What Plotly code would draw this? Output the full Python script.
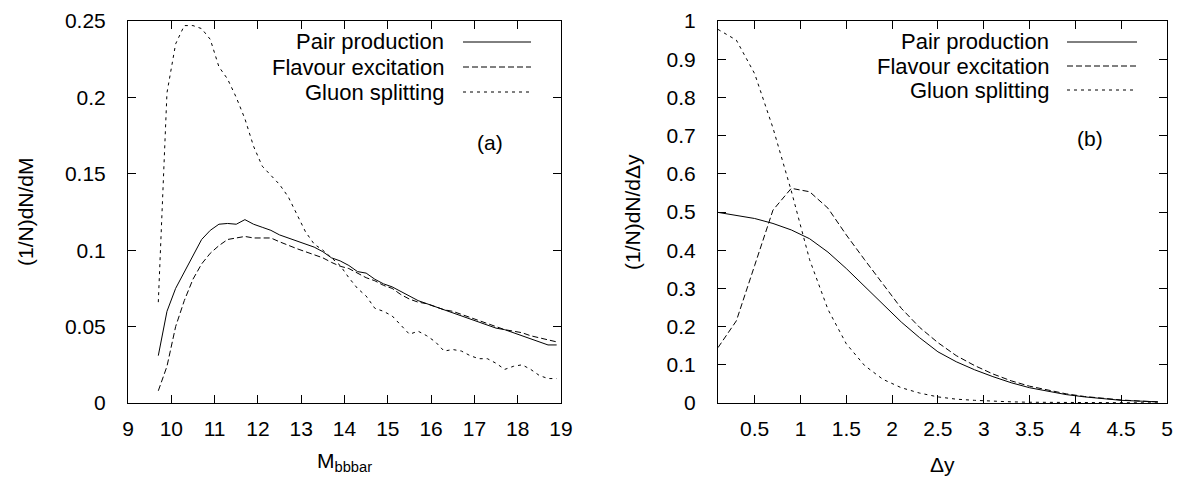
import plotly.graph_objects as go

# ---- data: panel (a) ----
m_vals = [9.7, 9.9, 10.1, 10.3, 10.5, 10.7, 10.9, 11.1, 11.3, 11.5, 11.7, 11.9, 12.1, 12.3, 12.5, 12.7,
          12.9, 13.1, 13.3, 13.5, 13.7, 13.9, 14.1, 14.3, 14.5, 14.7, 14.9, 15.1, 15.3, 15.5, 15.7, 15.9,
          16.1, 16.3, 16.5, 16.7, 16.9, 17.1, 17.3, 17.5, 17.7, 17.9, 18.1, 18.3, 18.5, 18.7, 18.9]
pair_m = [0.031, 0.060, 0.075, 0.086, 0.097, 0.107, 0.113, 0.117, 0.1175, 0.117, 0.120, 0.117, 0.115, 0.113,
          0.110, 0.108, 0.106, 0.104, 0.102, 0.099, 0.095, 0.093, 0.090, 0.086, 0.085, 0.081, 0.078, 0.076,
          0.073, 0.070, 0.067, 0.065, 0.063, 0.061, 0.059, 0.057, 0.055, 0.053, 0.051, 0.049, 0.048, 0.046,
          0.044, 0.042, 0.040, 0.038, 0.038]
flav_m = [0.008, 0.024, 0.050, 0.067, 0.081, 0.091, 0.098, 0.103, 0.107, 0.108, 0.109, 0.108, 0.108, 0.108,
          0.1055, 0.103, 0.101, 0.099, 0.097, 0.095, 0.092, 0.0895, 0.088, 0.085, 0.082, 0.080, 0.077, 0.075,
          0.071, 0.068, 0.066, 0.065, 0.063, 0.061, 0.060, 0.058, 0.056, 0.0535, 0.052, 0.050, 0.048, 0.047,
          0.046, 0.044, 0.0425, 0.041, 0.040]
gluon_m = [0.066, 0.203, 0.235, 0.247, 0.247, 0.245, 0.238, 0.220, 0.212, 0.200, 0.186, 0.168, 0.155, 0.149,
           0.143, 0.135, 0.123, 0.112, 0.104, 0.100, 0.095, 0.090, 0.082, 0.075, 0.070, 0.062, 0.060, 0.057,
           0.051, 0.045, 0.047, 0.044, 0.040, 0.034, 0.035, 0.034, 0.031, 0.029, 0.029, 0.026, 0.022, 0.024,
           0.025, 0.022, 0.018, 0.016, 0.016]

# ---- data: panel (b) ----
dy_vals = [0.1, 0.3, 0.5, 0.7, 0.9, 1.1, 1.3, 1.5, 1.7, 1.9, 2.1, 2.3, 2.5, 2.7, 2.9, 3.1, 3.3, 3.5, 3.7,
           3.9, 4.1, 4.3, 4.5, 4.7, 4.9]
pair_dy = [0.499, 0.492, 0.483, 0.470, 0.453, 0.430, 0.395, 0.352, 0.305, 0.258, 0.212, 0.171, 0.134, 0.108,
           0.087, 0.069, 0.053, 0.040, 0.030, 0.022, 0.016, 0.011, 0.007, 0.005, 0.003]
flav_dy = [0.145, 0.215, 0.360, 0.505, 0.562, 0.553, 0.510, 0.440, 0.375, 0.310, 0.248, 0.198, 0.158, 0.124,
           0.098, 0.076, 0.058, 0.044, 0.033, 0.024, 0.017, 0.012, 0.008, 0.005, 0.003]
gluon_dy = [0.978, 0.950, 0.862, 0.720, 0.555, 0.375, 0.245, 0.155, 0.098, 0.062, 0.040, 0.026, 0.016, 0.010,
            0.007, 0.0045, 0.003, 0.002, 0.0015, 0.001, 0.0008, 0.0005, 0.0004, 0.0003, 0.0002]

labels = ["Pair production", "Flavour excitation", "Gluon splitting"]
dashes = ["solid", "6px,3px", "3px,4px"]

# page body has an 8px default margin: size the figure to fit inside the window
OFF = 8
W, H = 1183 - 2 * OFF, 484 - 2 * OFF
FONT = "Liberation Sans, Arial, Helvetica, sans-serif"
FS = 21
FS_LEG = 22


def px(x):
    return (x - OFF) / W


def py(y):
    return 1 - (y - OFF) / H


fig = go.Figure()
for ys, lab, d in zip([pair_m, flav_m, gluon_m], labels, dashes):
    fig.add_trace(go.Scatter(x=m_vals, y=ys, mode="lines", name=lab, showlegend=False,
                             line=dict(color="black", width=1, dash=d), xaxis="x", yaxis="y"))
for ys, lab, d in zip([pair_dy, flav_dy, gluon_dy], labels, dashes):
    fig.add_trace(go.Scatter(x=dy_vals, y=ys, mode="lines", name=lab, showlegend=False,
                             line=dict(color="black", width=1, dash=d), xaxis="x2", yaxis="y2"))

axis_common = dict(showline=True, linecolor="black", linewidth=1, mirror="allticks", ticks="inside",
                   ticklen=8, tickcolor="black", tickwidth=1, showgrid=False, zeroline=False,
                   tickfont=dict(family=FONT, size=FS, color="black"), automargin=False)

ydom = [py(403), py(21)]
fig.update_layout(
    width=W, height=H, margin=dict(l=0, r=0, t=0, b=0),
    paper_bgcolor="white", plot_bgcolor="white", showlegend=False,
    font=dict(family=FONT, size=FS, color="black"),
    xaxis=dict(domain=[px(128), px(561)], range=[9, 19], tickmode="linear", tick0=9, dtick=1,
               anchor="y", ticklabelstandoff=7, **axis_common),
    yaxis=dict(domain=ydom, range=[0, 0.25], tickmode="linear", tick0=0, dtick=0.05,
               anchor="x", ticklabelstandoff=17, **axis_common),
    xaxis2=dict(domain=[px(718), px(1167)], range=[0.1, 5], tickmode="array",
                tickvals=[0.5, 1, 1.5, 2, 2.5, 3, 3.5, 4, 4.5, 5],
                ticktext=["0.5", "1", "1.5", "2", "2.5", "3", "3.5", "4", "4.5", "5"],
                anchor="y2", ticklabelstandoff=7, **axis_common),
    yaxis2=dict(domain=ydom, range=[0, 1], tickmode="linear", tick0=0, dtick=0.1,
                anchor="x2", ticklabelstandoff=17, **axis_common),
)

annotations = []
shapes = []


def text(x, y, t, xanchor="center", angle=0, size=FS):
    annotations.append(dict(x=px(x), y=py(y), xref="paper", yref="paper", text=t, showarrow=False,
                            xanchor=xanchor, yanchor="middle", textangle=angle,
                            font=dict(family=FONT, size=size, color="black")))


# axis titles
text(25, 212, "(1/N)dN/dM", angle=-90)
text(632, 212, "(1/N)dN/dΔy", angle=-90)
text(344, 462, "M<sub>bbbar</sub>")
text(942, 464, "Δy")
text(490, 142, "(a)")
text(1090, 138, "(b)")

# legends (gnuplot-style: text right-aligned, sample to the right)
for (tx, lx0, lx1, rows) in [(446, 463, 531, [42, 67, 92]), (1051, 1067, 1137, [42, 66, 90])]:
    for lab, d, ry in zip(labels, dashes, rows):
        text(tx, ry, lab, xanchor="right", size=FS_LEG)
        shapes.append(dict(type="line", xref="paper", yref="paper", x0=px(lx0), x1=px(lx1),
                           y0=py(ry), y1=py(ry), line=dict(color="black", width=1, dash=d)))

fig.update_layout(annotations=annotations, shapes=shapes)
fig.write_html("out.html")
